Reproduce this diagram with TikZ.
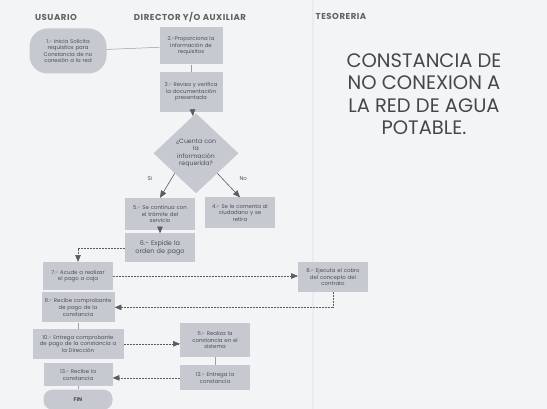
\documentclass[tikz,border=0pt]{standalone}
\usepackage{fontspec}
\setmainfont{Poppins}
\usepackage{tikz}
\usetikzlibrary{positioning}
\usetikzlibrary{shapes}
\usetikzlibrary{arrows}
\usepackage{xcolor}
\definecolor{fondo}{HTML}{F3F4F6}
\definecolor{caja}{HTML}{C6C9D0}
\definecolor{linea}{HTML}{5A5C62}
\definecolor{texto}{HTML}{4E5055}
\definecolor{carril}{HTML}{E8EBF1}
\tikzstyle{paso} = [rectangle,fill=caja,align=center,inner sep=1.5pt,text=texto,font=\fontsize{5.4}{6.6}\selectfont]
\tikzstyle{inicio} = [paso,rounded corners=18pt]
\tikzstyle{decision} = [diamond,fill=caja,align=center,inner sep=0pt,text=texto,text width=44pt,minimum width=85pt,minimum height=80pt,font=\fontsize{6.2}{7.4}\selectfont]
\tikzstyle{flecha} = [->,draw=linea,line width=0.5pt,dash pattern=on 2pt off 1pt]
\tikzstyle{union} = [draw=linea!60,line width=0.5pt]
\tikzstyle{etiqueta} = [text=texto,font=\fontsize{5.5}{6}\selectfont]
\tikzstyle{carrilTit} = [text=black!62,font=\fontsize{8.6}{10}\selectfont\bfseries\addfontfeatures{LetterSpace=6}]
\tikzset{>={triangle 45}}

\begin{document}
\begin{tikzpicture}[x=1pt,y=-1pt]
  \fill [fondo] (0,0) rectangle (547,409);
  \useasboundingbox (0,0) rectangle (547,409);
  \draw [carril,line width=1.5pt] (313,0) -- (313,409);

  \node [carrilTit] (h1) at (56,17) {USUARIO};
  \node [carrilTit] (h2) at (190,17) {DIRECTOR Y/O AUXILIAR};
  \node [carrilTit] (h3) at (341,16) {TESORERIA};

  \node [text=black!72,align=center,font=\fontsize{19.5}{22.5}\selectfont] (t1) at (424,94)
    {CONSTANCIA DE\\NO CONEXION A\\LA RED DE AGUA\\POTABLE.};

  \node [inicio,minimum width=77pt,minimum height=45pt,text width=66pt] (n1) at (68,51)
    {1.- Inicia Solicita\\requisitos para\\Constancia de no\\conexión a la red};
  \node [paso,minimum width=62pt,minimum height=37pt,text width=60pt] (n2) at (191,46)
    {2.-Proporciona la\\información de\\requisitos};
  \node [paso,minimum width=62pt,minimum height=40pt,text width=60pt,below=7pt of n2] (n3)
    {3.- Revisa y verifica\\la documentación\\presentada};
  \node [decision,below=1pt of n3,xshift=5pt] (n4)
    {¿Cuenta con\\la\\información\\requerida?};

  \draw [union] (n1) -- (n2);
  \draw [union] (n2) -- (n3);
  \draw [->,draw=linea,line width=0.5pt] (n3) -- (n4);

  \node [paso,minimum width=70pt,minimum height=32pt,text width=66pt] (n5) at (160,214)
    {5.- Se continua con\\el trámite del\\servicio};
  \node [paso,minimum width=70pt,minimum height=31pt,text width=66pt] (n6) at (240,213)
    {4.- Se le comenta al\\ciudadano y se\\retira};
  \draw [->,draw=linea,line width=0.6pt] (n4.south west) -- node [etiqueta,pos=0.2,left=16pt] {Si} (n5.north);
  \draw [->,draw=linea,line width=0.6pt] (n4.south east) -- node [etiqueta,pos=0.2,right=14pt] {No} (n6.north);

  \node [paso,minimum width=70pt,minimum height=29pt,text width=66pt,below=3pt of n5,font=\fontsize{6.5}{8}\selectfont] (n7)
    {6.- Expide la\\orden de pago};
  \draw [->,draw=linea,line width=0.5pt] (n5) -- (n7);

  \node [paso,minimum width=70pt,minimum height=28pt,text width=66pt] (n8) at (78,276)
    {7.- Acude a realizar\\el pago a caja};
  \node [paso,minimum width=70pt,minimum height=30pt,text width=66pt] (n9) at (333,277)
    {8.- Ejecuta el cobro\\del concepto del\\contrato};
  \node [paso,minimum width=73pt,minimum height=30pt,text width=70pt,below=2pt of n8] (n10)
    {9.- Recibe comprobante\\de pago de la\\constancia};
  \node [paso,minimum width=91pt,minimum height=30pt,text width=88pt,below=6pt of n10] (n11)
    {10.- Entrega comprobante\\de pago de la constancia a\\la Dirección};
  \node [paso,minimum width=69pt,minimum height=23pt,text width=66pt,below=4pt of n11] (n14)
    {13.- Recibe la\\constancia};
  \node [inicio,rounded corners=9pt,minimum width=69pt,minimum height=20pt,below=3pt of n14] (n15)
    {\bfseries FIN};

  \node [paso,minimum width=70pt,minimum height=34pt,text width=66pt] (n12) at (215,340)
    {11.- Realiza la\\constancia en el\\sistema};
  \node [paso,minimum width=70pt,minimum height=25pt,text width=66pt,below=8pt of n12] (n13)
    {12.- Entrega la\\constancia};

  \draw [flecha] (n7.west) -| (n8.north);
  \draw [flecha] (n8.east) -- (n8.east -| n9.west);
  \draw [flecha] (n9.south) |- (n10.east);
  \draw [union] (n10) -- (n11);
  \draw [flecha] (n11.east) -- (n11.east -| n12.west);
  \draw [union] (n12) -- (n13);
  \draw [flecha] (n13.west) -- (n13.west -| n14.east);
  \draw [union] (n14) -- (n15);
\end{tikzpicture}
\end{document}
